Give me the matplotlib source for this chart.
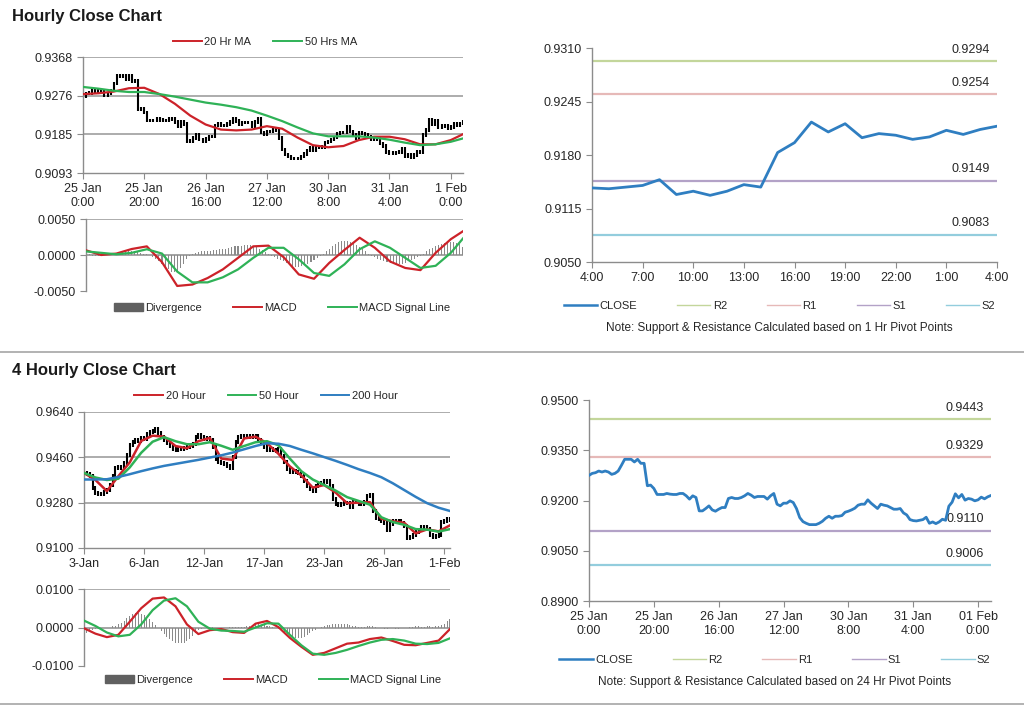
#!/usr/bin/env python3
"""Hourly / 4-hourly close charts with MACD and pivot levels."""

import matplotlib

matplotlib.use("Agg")
import matplotlib.pyplot as plt
import numpy as np
from matplotlib.lines import Line2D
from matplotlib.patches import Patch

W, H = 1024, 706

RED = "#cc2229"
GREEN = "#2fb257"
BLUE = "#2f7ec1"
GRID = "#a6a6a6"
AXIS = "#8c8c8c"
TEXT = "#262626"
DIV = "#8a8a8a"

# ---- hourly data: 25 Jan 0:00 .. 1 Feb 4:00 (125 bars) ----
hourly_close = [
    0.9275, 0.9281, 0.9283, 0.9288, 0.9285, 0.9288, 0.9285, 0.9278, 0.9281, 0.9288,
    0.9305, 0.9323, 0.9323, 0.9323, 0.9315, 0.9323, 0.9311, 0.9311, 0.9244, 0.9246,
    0.9236, 0.9218, 0.9218, 0.9218, 0.9221, 0.9219, 0.9218, 0.9218, 0.9221, 0.9221,
    0.9214, 0.9204, 0.9214, 0.9209, 0.9169, 0.9169, 0.9176, 0.9184, 0.9172, 0.9168,
    0.9174, 0.9179, 0.9179, 0.9206, 0.9209, 0.9206, 0.9206, 0.9209, 0.9214, 0.9221,
    0.9216, 0.9209, 0.9212, 0.9212, 0.9212, 0.9204, 0.9214, 0.9221, 0.9189, 0.9184,
    0.9192, 0.9192, 0.9199, 0.9194, 0.9176, 0.9149, 0.9137, 0.9132, 0.9128, 0.9128,
    0.9128, 0.9132, 0.9138, 0.9147, 0.9153, 0.9147, 0.9153, 0.9153, 0.9155, 0.9165,
    0.9168, 0.9172, 0.9177, 0.9186, 0.9189, 0.9189, 0.9202, 0.9192, 0.9184, 0.9176,
    0.9189, 0.9186, 0.9184, 0.9179, 0.9174, 0.9174, 0.9176, 0.9163, 0.9157, 0.9143,
    0.9140, 0.9139, 0.9141, 0.9143, 0.9150, 0.9132, 0.9136, 0.9131, 0.9136, 0.9144,
    0.9141, 0.9183, 0.9195, 0.9220, 0.9208, 0.9218, 0.9201, 0.9206, 0.9204, 0.9199,
    0.9202, 0.9210, 0.9205, 0.9211, 0.9215,
]
hourly_tick_idx = [0, 20, 40, 60, 80, 100, 120]
hourly_tick_labels = ["25 Jan\n0:00", "25 Jan\n20:00", "26 Jan\n16:00", "27 Jan\n12:00",
                      "30 Jan\n8:00", "31 Jan\n4:00", "1 Feb\n0:00"]
pivot24_tick_labels = ["25 Jan\n0:00", "25 Jan\n20:00", "26 Jan\n16:00", "27 Jan\n12:00",
                       "30 Jan\n8:00", "31 Jan\n4:00", "01 Feb\n0:00"]

hourly_ma_idx = [0, 5, 10, 15, 20, 25, 30, 35, 40, 45, 50, 55, 60, 65, 70, 75, 80,
                 85, 90, 95, 100, 105, 110, 115, 120, 124]
hourly_ma20 = [0.9280, 0.9282, 0.9286, 0.9294, 0.9295, 0.9280, 0.9257, 0.9229, 0.9208,
               0.9196, 0.9194, 0.9196, 0.9204, 0.9198, 0.9177, 0.9159, 0.9154, 0.9157,
               0.9171, 0.9179, 0.9179, 0.9173, 0.9161, 0.9161, 0.9171, 0.9185]
hourly_ma50 = [0.9297, 0.9293, 0.9288, 0.9285, 0.9285, 0.9280, 0.9274, 0.9267, 0.9260,
               0.9255, 0.9249, 0.9241, 0.9229, 0.9216, 0.9201, 0.9187, 0.9180, 0.9180,
               0.9180, 0.9177, 0.9172, 0.9165, 0.9159, 0.9161, 0.9167, 0.9175]
hourly_macd = [0.00065, 0.0000, 0.0002, 0.00083, 0.0012, -0.0010, -0.0043, -0.0041,
               -0.0032, -0.0020, -0.0004, 0.0012, 0.0013, -0.0003, -0.0027, -0.0033,
               -0.0011, 0.0007, 0.0024, 0.0010, -0.0009, -0.0018, -0.0021, 0.0003,
               0.0022, 0.0033]
hourly_signal = [0.0005, 0.0003, 0.0001, 0.0003, 0.0008, 0.0002, -0.0023, -0.0038,
                 -0.0038, -0.0031, -0.0020, -0.0004, 0.0010, 0.0010, -0.0006, -0.0025,
                 -0.0029, -0.0013, 0.0008, 0.0019, 0.0010, -0.0004, -0.0018, -0.0015,
                 0.0003, 0.0023]
hourly_div = [
    0.0002, 0.0001, -0.0001, -0.0002, -0.0001,
    0.0001, 0.0001, 0.0002, 0.0002, 0.0003, 0.0003, 0.0003, 0.0004, 0.0004, 0.0005,
    0.0005, 0.0006, 0.0005,
    0.0003, 0.0002, 0.0001, 0.0000,
    -0.0003, -0.0006, -0.0009, -0.0012, -0.0016, -0.0020, -0.0023, -0.0024, -0.0022,
    -0.0018, -0.0012,
    -0.0006, -0.0002,
    0.0002, 0.0003, 0.0004, 0.0005, 0.0005, 0.0006, 0.0006, 0.0007, 0.0007, 0.0008,
    0.0008, 0.0009, 0.0010, 0.0011, 0.0012, 0.0013, 0.0013, 0.0014, 0.0014, 0.0014,
    0.0013, 0.0012, 0.0009, 0.0007,
    0.0004, 0.0001, -0.0001,
    -0.0003, -0.0005, -0.0007, -0.0009, -0.0011, -0.0013, -0.0015, -0.0016, -0.0016,
    -0.0015, -0.0014, -0.0012, -0.0010, -0.0007, -0.0004,
    -0.0001, 0.0002,
    0.0006, 0.0009, 0.0012, 0.0015, 0.0018, 0.0019, 0.0020, 0.0019, 0.0018, 0.0016,
    0.0014, 0.0011, 0.0008, 0.0005, 0.0002,
    -0.0001, -0.0003, -0.0005, -0.0007, -0.0009, -0.0010, -0.0011, -0.0012, -0.0013,
    -0.0013, -0.0012, -0.0011, -0.0009, -0.0007, -0.0005, -0.0003,
    -0.0001, 0.0002, 0.0005,
    0.0008, 0.0010, 0.0012, 0.0014, 0.0015, 0.0016, 0.0017, 0.0018, 0.0018, 0.0017,
    0.0015, 0.0011,
]

# 1 Hr pivot levels (last 24 hours) and 24 Hr pivot levels
pivot1_levels = {"R2": 0.9294, "R1": 0.9254, "S1": 0.9149, "S2": 0.9083}
pivot24_levels = {"R2": 0.9443, "R1": 0.9329, "S1": 0.9110, "S2": 0.9006}
pivot1_tick_labels = ["4:00", "7:00", "10:00", "13:00", "16:00", "19:00", "22:00",
                      "1:00", "4:00"]
LEVEL_COLORS = {"R2": "#c3d69b", "R1": "#e6b9b8", "S1": "#b3a2c7", "S2": "#93cddd"}

# ---- 4 hourly data: 3 Jan .. 1 Feb (129 bars) ----
h4_close = [
    0.9398, 0.9392, 0.9386, 0.9340, 0.9320, 0.9316, 0.9313, 0.9322, 0.9332, 0.9350,
    0.9385, 0.9418, 0.9422, 0.9416, 0.9437, 0.9470, 0.9510, 0.9522, 0.9530, 0.9526,
    0.9535, 0.9533, 0.9552, 0.9560, 0.9566, 0.9572, 0.9555, 0.9540, 0.9528, 0.9516,
    0.9505, 0.9494, 0.9488, 0.9492, 0.9494, 0.9497, 0.9502, 0.9504, 0.9514, 0.9540,
    0.9547, 0.9540, 0.9534, 0.9536, 0.9530, 0.9500, 0.9455, 0.9440, 0.9436, 0.9434,
    0.9427, 0.9418, 0.9460, 0.9520, 0.9542, 0.9543, 0.9544, 0.9541, 0.9545, 0.9542,
    0.9544, 0.9530, 0.9516, 0.9503, 0.9490, 0.9494, 0.9490, 0.9484, 0.9494, 0.9465,
    0.9440, 0.9415, 0.9400, 0.9404, 0.9400, 0.9398, 0.9386, 0.9366, 0.9348, 0.9334,
    0.9327, 0.9345, 0.9355, 0.9359, 0.9364, 0.9365, 0.9348, 0.9295, 0.9276, 0.9272,
    0.9273, 0.9279, 0.9280, 0.9262, 0.9284, 0.9282, 0.9276, 0.9273, 0.9282, 0.9305,
    0.9310, 0.9245, 0.9220, 0.9215, 0.9208, 0.9200, 0.9170, 0.9195, 0.9206, 0.9208,
    0.9207, 0.9200, 0.9188, 0.9140, 0.9143, 0.9153, 0.9165, 0.9172, 0.9182, 0.9182,
    0.9176, 0.9152, 0.9143, 0.9147, 0.9150, 0.9205, 0.9208, 0.9214, 0.9213,
]
h4_tick_idx = [0, 21, 42, 63, 84, 105, 126]
h4_tick_labels = ["3-Jan", "6-Jan", "12-Jan", "17-Jan", "23-Jan", "26-Jan", "1-Feb"]

h4_ma_idx = list(range(0, 129, 4))
h4_ma20 = [0.9398, 0.9370, 0.9326, 0.9385, 0.9440, 0.9525, 0.9546, 0.9542, 0.9505,
           0.9496, 0.9524, 0.9537, 0.9455, 0.9450, 0.9535, 0.9542, 0.9516, 0.9474,
           0.9424, 0.9388, 0.9340, 0.9350, 0.9320, 0.9278, 0.9280, 0.9282, 0.9216,
           0.9206, 0.9200, 0.9158, 0.9174, 0.9166, 0.9190]
h4_ma50 = [0.9398, 0.9380, 0.9370, 0.9375, 0.9420, 0.9478, 0.9522, 0.9540, 0.9524,
           0.9512, 0.9512, 0.9520, 0.9506, 0.9490, 0.9505, 0.9520, 0.9524, 0.9508,
           0.9455, 0.9405, 0.9372, 0.9350, 0.9328, 0.9302, 0.9287, 0.9272, 0.9222,
           0.9203, 0.9192, 0.9175, 0.9173, 0.9165, 0.9175]
h4_ma200 = [0.9372, 0.9372, 0.9373, 0.9382, 0.9393, 0.9405, 0.9416, 0.9426, 0.9434,
            0.9442, 0.9450, 0.9459, 0.9468, 0.9479, 0.9492, 0.9505, 0.9516, 0.9514,
            0.9505, 0.9490, 0.9476, 0.9461, 0.9446, 0.9430, 0.9413, 0.9398, 0.9381,
            0.9357, 0.9330, 0.9303, 0.9278, 0.9260, 0.9247]
h4_macd = [-0.0002, -0.0016, -0.0025, -0.0019, 0.0015, 0.0050, 0.0075, 0.0078, 0.0055,
           0.0008, -0.0017, -0.0007, -0.0004, -0.0012, -0.0014, 0.0010, 0.0017, 0.0001,
           -0.0027, -0.0050, -0.0071, -0.0066, -0.0054, -0.0042, -0.0039, -0.0030,
           -0.0026, -0.0035, -0.0045, -0.0046, -0.0040, -0.0034, -0.0004]
h4_signal = [0.0018, 0.0004, -0.0013, -0.0023, -0.0019, 0.0008, 0.0045, 0.0070, 0.0076,
             0.0055, 0.0015, -0.0003, -0.0008, -0.0009, -0.0011, 0.0000, 0.0011, 0.0010,
             -0.0019, -0.0046, -0.0068, -0.0071, -0.0066, -0.0058, -0.0048, -0.0039,
             -0.0032, -0.0030, -0.0034, -0.0042, -0.0043, -0.0040, -0.0028]
h4_div = [
    -0.0020, -0.0014, -0.0010,
    -0.0006, -0.0004, -0.0003, -0.0003, -0.0002, -0.0001, 0.0000,
    0.0003, 0.0005, 0.0008,
    0.0012, 0.0018, 0.0024, 0.0030, 0.0034, 0.0037, 0.0038, 0.0036, 0.0032, 0.0027,
    0.0021, 0.0014,
    0.0006, -0.0002, -0.0010,
    -0.0017, -0.0024, -0.0030, -0.0035, -0.0039, -0.0041, -0.0041, -0.0039, -0.0035,
    -0.0029, -0.0022, -0.0014, -0.0007,
    -0.0003, -0.0002, 0.0001, 0.0002, 0.0001, -0.0001, -0.0002, -0.0002, -0.0001,
    0.0000, 0.0001, 0.0001, 0.0002, 0.0002, 0.0001, 0.0001,
    0.0003, 0.0005, 0.0007, 0.0008, 0.0008, 0.0007, 0.0006, 0.0005, 0.0003, 0.0001,
    -0.0002, -0.0005, -0.0008, -0.0012, -0.0016, -0.0020, -0.0023, -0.0026, -0.0028,
    -0.0027, -0.0024, -0.0020, -0.0015, -0.0010, -0.0006, -0.0002,
    0.0002, 0.0004, 0.0006, 0.0007, 0.0008, 0.0008, 0.0009, 0.0009, 0.0008, 0.0008,
    0.0007, 0.0005, 0.0003, 0.0002,
    0.0001, 0.0002, 0.0004, 0.0004, 0.0003, 0.0001, -0.0001, -0.0002, -0.0003, -0.0003,
    -0.0002, -0.0002, -0.0003, -0.0003, -0.0002, -0.0001, 0.0000, 0.0001, 0.0002,
    0.0003, 0.0003, 0.0002,
    0.0002, 0.0003, 0.0003, 0.0002, 0.0003, 0.0004, 0.0006, 0.0010, 0.0016, 0.0021,
]


def apply_style() -> None:
    plt.rcParams.update(
        {
            "font.family": ["Liberation Sans", "DejaVu Sans"],
            "font.size": 9,
            "text.color": TEXT,
            "xtick.color": AXIS,
            "ytick.color": AXIS,
            "xtick.labelcolor": TEXT,
            "ytick.labelcolor": TEXT,
            "xtick.labelsize": 9,
            "ytick.labelsize": 9,
            "xtick.direction": "out",
            "ytick.direction": "out",
            "xtick.major.size": 4,
            "ytick.major.size": 4,
            "axes.edgecolor": AXIS,
            "axes.linewidth": 1.0,
            "legend.frameon": False,
            "legend.fontsize": 8,
        }
    )


def px_axes(fig, left, top, right, bottom):
    return fig.add_axes([left / W, 1 - bottom / H, (right - left) / W, (bottom - top) / H])


def base_axes(ax, yticks, grid=True):
    for side in ("top", "right"):
        ax.spines[side].set_visible(False)
    ax.set_ylim(yticks[0], yticks[-1])
    ax.set_yticks(yticks)
    ax.set_yticklabels([f"{v:.4f}" for v in yticks])
    if grid:
        for v in yticks[1:]:
            ax.axhline(v, color=GRID, lw=1.3, zorder=0)
    ax.patch.set_alpha(0)


def draw_bars(ax, close, pad):
    # OHLC-style bars: each bar spans previous close to this close
    c = np.asarray(close)
    prev = np.r_[c[0], c[:-1]]
    x = np.arange(len(c))
    ax.vlines(x, np.minimum(prev, c) - pad, np.maximum(prev, c) + pad,
              color="black", lw=1.5, zorder=2)


def fig_legend(fig, handles, labels, cx, cy, colsp=2.0, hlen=2.6):
    fig.legend(handles, labels, loc="center", bbox_to_anchor=(cx / W, 1 - cy / H),
               ncol=len(handles), columnspacing=colsp, handlelength=hlen,
               handletextpad=0.2, borderpad=0, fontsize=8)


def macd_panel(fig, box, macd_idx, macd, signal, div, yticks, cy_legend, cx_legend):
    ax = px_axes(fig, *box)
    base_axes(ax, yticks)
    ax.axhline(0, color=GRID, lw=1.3, zorder=0)
    x = np.arange(len(div))
    ax.bar(x, div, width=0.35, color=DIV, zorder=1)
    ax.plot(macd_idx, macd, color=RED, lw=1.6, zorder=3)
    ax.plot(macd_idx, signal, color=GREEN, lw=1.6, zorder=3)
    ax.set_xlim(0, len(div) - 1)
    ax.set_xticks([])
    ax.spines["bottom"].set_visible(False)
    handles = [Patch(color="#606060"), Line2D([], [], color=RED, lw=1.4),
               Line2D([], [], color=GREEN, lw=1.4)]
    fig_legend(fig, handles, ["Divergence", "MACD", "MACD Signal Line"],
               cx_legend, cy_legend, colsp=2.8)


def pivot_panel(fig, box, close, levels, yticks, ticks, labels, cy_legend, note, cy_note):
    ax = px_axes(fig, *box)
    base_axes(ax, yticks, grid=False)
    x = np.arange(len(close))
    for name, val in levels.items():
        ax.axhline(val, color=LEVEL_COLORS[name], lw=1.6, zorder=1)
        ax.annotate(f"{val:.4f}", xy=(0.935, val), xycoords=("axes fraction", "data"),
                    xytext=(0, 4), textcoords="offset points", ha="center", va="bottom",
                    fontsize=9)
    ax.plot(x, close, color=BLUE, lw=2.0, zorder=3)
    ax.set_xlim(0, len(close) - 1)
    ax.set_xticks(ticks)
    ax.set_xticklabels(labels)
    handles = [Line2D([], [], color=BLUE, lw=1.8)] + [
        Line2D([], [], color=LEVEL_COLORS[k], lw=1.0) for k in levels
    ]
    cx = box[0] + (box[2] - box[0]) / 2 - 15
    fig_legend(fig, handles, ["CLOSE"] + list(levels), cx, cy_legend, colsp=3.6, hlen=3.0)
    fig.text(cx / W, 1 - cy_note / H, note, ha="center", va="center", fontsize=8.5)


def main() -> None:
    apply_style()
    fig = plt.figure(figsize=(W / 100, H / 100), dpi=100)

    fig.text(12 / W, 1 - 16 / H, "Hourly Close Chart", fontsize=12, fontweight="bold",
             ha="left", va="center", color="#1a1a1a")
    fig.text(12 / W, 1 - 370 / H, "4 Hourly Close Chart", fontsize=12, fontweight="bold",
             ha="left", va="center", color="#1a1a1a")
    for y in (352, 704):
        fig.add_artist(Line2D([0, 1], [1 - y / H] * 2, color=GRID, lw=1.2,
                              transform=fig.transFigure))

    # hourly bars + MAs
    ax = px_axes(fig, 83, 57, 463, 173)
    base_axes(ax, [0.9093, 0.9185, 0.9276, 0.9368])
    draw_bars(ax, hourly_close, 0.0004)
    ax.plot(hourly_ma_idx, hourly_ma20, color=RED, lw=1.6, zorder=3)
    ax.plot(hourly_ma_idx, hourly_ma50, color=GREEN, lw=1.6, zorder=3)
    ax.set_xlim(0, len(hourly_close) - 1)
    ax.set_xticks(hourly_tick_idx)
    ax.set_xticklabels(hourly_tick_labels)
    fig_legend(fig, [Line2D([], [], color=RED, lw=1.4), Line2D([], [], color=GREEN, lw=1.4)],
               ["20 Hr MA", "50 Hrs MA"], 265, 42)

    macd_panel(fig, (86, 219, 463, 291), hourly_ma_idx, hourly_macd, hourly_signal,
               hourly_div, [-0.005, 0.0, 0.005], 308, 282)

    # 1 hr pivot chart (last 25 hourly closes)
    pivot_panel(fig, (592, 48, 997, 262), hourly_close[-25:], pivot1_levels,
                [0.9050, 0.9115, 0.9180, 0.9245, 0.9310], list(range(0, 25, 3)),
                pivot1_tick_labels, 306,
                "Note: Support & Resistance Calculated based on 1 Hr Pivot Points", 328)

    # 4 hourly bars + MAs
    ax = px_axes(fig, 84, 412, 450, 548)
    base_axes(ax, [0.9100, 0.9280, 0.9460, 0.9640])
    draw_bars(ax, h4_close, 0.0008)
    ax.plot(h4_ma_idx, h4_ma20, color=RED, lw=1.8, zorder=3)
    ax.plot(h4_ma_idx, h4_ma50, color=GREEN, lw=1.8, zorder=3)
    ax.plot(h4_ma_idx, h4_ma200, color=BLUE, lw=1.8, zorder=3)
    ax.set_xlim(0, len(h4_close) - 1)
    ax.set_xticks(h4_tick_idx)
    ax.set_xticklabels(h4_tick_labels)
    fig_legend(fig, [Line2D([], [], color=RED, lw=1.4), Line2D([], [], color=GREEN, lw=1.4),
                     Line2D([], [], color=BLUE, lw=1.4)],
               ["20 Hour", "50 Hour", "200 Hour"], 266, 396)

    macd_panel(fig, (84, 589, 450, 666), h4_ma_idx, h4_macd, h4_signal, h4_div,
               [-0.01, 0.0, 0.01], 680, 273)

    # 24 hr pivot chart
    pivot_panel(fig, (589, 400, 991, 601), hourly_close, pivot24_levels,
                [0.8900, 0.9050, 0.9200, 0.9350, 0.9500], hourly_tick_idx,
                pivot24_tick_labels, 660,
                "Note: Support & Resistance Calculated based on 24 Hr Pivot Points", 682)

    fig.savefig("out.png", dpi=100, facecolor="white")
    plt.close(fig)


if __name__ == "__main__":
    main()
